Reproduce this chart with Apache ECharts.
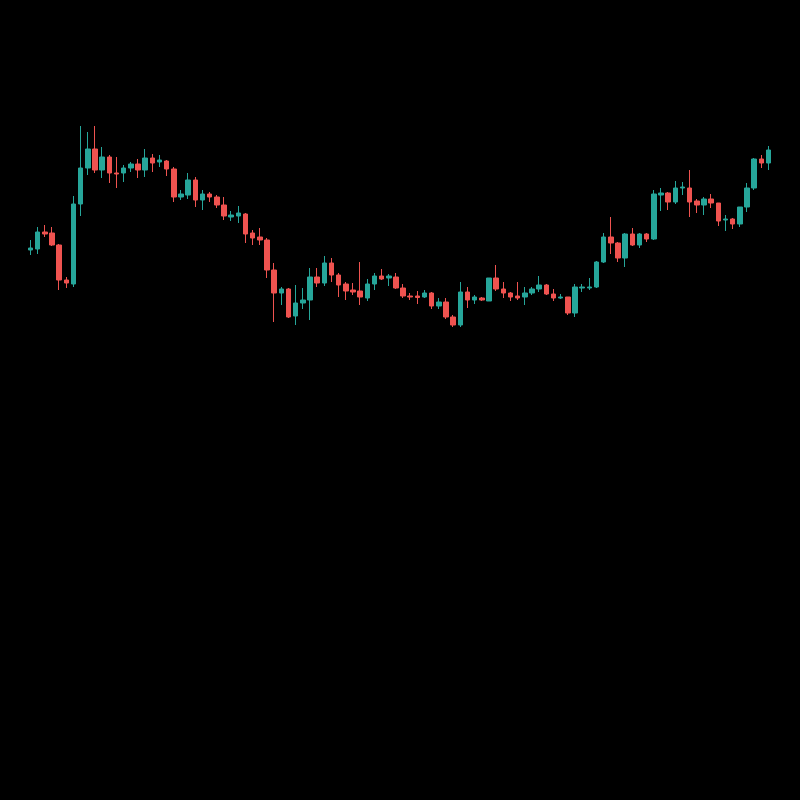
<!DOCTYPE html>
<html>
<head>
<meta charset="utf-8">
<script src="https://cdn.jsdelivr.net/npm/echarts@6/dist/echarts.min.js"></script>
<style>html,body{margin:0;padding:0;background:#000;}#c{width:800px;height:800px;}</style>
</head>
<body>
<div id="c"></div>
<script>
const opens  = [750,751,768,767,755,720,716,796,832,851,830,843,827,827,832,836,830,842,838,839,831,803,805,820,800,806,803,795,783,784,786,767,763,760,730,707,711,684,697,700,723,717,737,725,716,710,709,702,716,724,722,723,712,704,704,703,707,694,698,683,675,708,700,702,699,722,711,707,704,703,707,711,715,706,702,703,687,712,712,713,738,763,757,742,766,755,766,761,805,807,798,812,812,799,795,801,797,780,781,776,793,812,841,837];
const closes = [752,768,766,755,720,717,796,832,851,830,843,827,826,832,836,830,842,837,840,831,803,806,820,800,806,803,795,784,785,787,766,762,760,730,707,711,683,697,700,723,717,737,725,715,709,708,703,716,724,721,724,712,704,703,702.5,707,694,698,683,675,708,700,703,700,722,711,707,703,702,707,711,715,706,702,703,687,713,713,713,738,763,757,742,766,755,766,761,806,807,798,812,813,798,795,801,797,779,781,776,793,812,841,837,850];
const lows   = [745,746,763,754,710,712,713,784,825,827,822,817,812,818,828,822,823,828,833,824,798,800,801,793,790,798,792,780,779,777,757,755,755,722,678,695,682,675,691,680,713,714,718,703,700,705,695,699,710,720,714,711,702,700,696,702,691,691,681,673,673,692,696,699,699,709,702,699,700,695,705,708,705,699,701,685,683,708,710,712,737,746,738,733,754,752,758,760,789,790,796,805,783,787,785,792,774,769,771,773,788,810,832,830];
const highs  = [760,773,775,773,756,723,804,874,868,874,853,845,843,835,838,841,851,846,845,840,833,810,827,823,810,808,805,803,789,794,787,770,772,762,737,713,712,715,712,732,732,744,742,727,718,717,738,721,727,731,726,727,716,707,709,710,708,702,702,685,718,713,705,703,722,735,718,708,718,713,713,724,716,711,706,703,716,716,722,739,767,783,758,767,772,767,767,810,812,808,819,818,830,801,803,806,797,785,782,793,817,842,845,854];
const categories = opens.map((_, i) => String(i + 1));

const data = opens.map((o, i) => [o, closes[i], lows[i], highs[i]]);

const chart = echarts.init(document.getElementById('c'));
chart.setOption({
  backgroundColor: '#000000',
  animation: false,
  grid: { left: 27, right: 28, top: 0, bottom: 0 },
  xAxis: {
    type: 'category',
    data: categories,
    boundaryGap: true,
    show: false
  },
  yAxis: {
    type: 'value',
    min: 200,
    max: 1000,
    show: false,
    splitLine: { show: false }
  },
  series: [{
    type: 'candlestick',
    data: data,
    barWidth: 5,
    itemStyle: {
      color: '#26a69a',
      color0: '#ef5350',
      borderColor: '#26a69a',
      borderColor0: '#ef5350',
      borderWidth: 1
    }
  }]
});
</script>
</body>
</html>
